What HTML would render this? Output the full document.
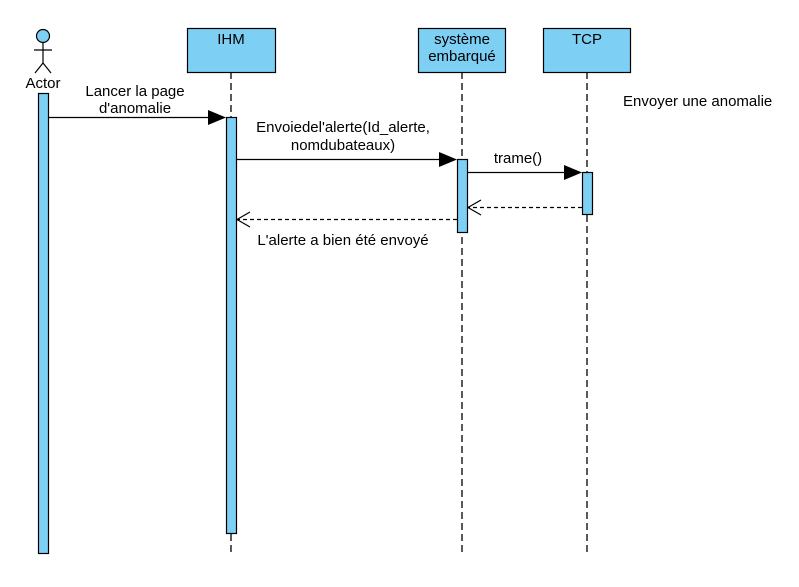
<!DOCTYPE html>
<html><head><meta charset="utf-8"><style>
body{margin:0;background:#fff;}
svg text{font-family:"Liberation Sans",Arial,sans-serif;font-size:15px;fill:#000;}
</style></head><body>
<svg width="799" height="582" viewBox="0 0 799 582" xmlns="http://www.w3.org/2000/svg">
<g stroke="#000" stroke-width="1.3" stroke-dasharray="7,4" fill="none">
<line x1="231" y1="72" x2="231" y2="556"/>
<line x1="462" y1="72" x2="462" y2="556"/>
<line x1="587" y1="72" x2="587" y2="556"/>
</g>
<g fill="#7dcff3" stroke="#000" stroke-width="1.2">
<rect x="187.5" y="28.5" width="88" height="44"/>
<rect x="418.5" y="28.5" width="87" height="44"/>
<rect x="543.5" y="28.5" width="87" height="44"/>
<rect x="38.5" y="93.5" width="10" height="460"/>
<rect x="226.5" y="117.5" width="10" height="416"/>
<rect x="457.5" y="159.5" width="10" height="73"/>
<rect x="582.5" y="172.5" width="10" height="42"/>
<circle cx="43" cy="36" r="6.5"/>
</g>
<g stroke="#000" fill="none" stroke-width="1.2">
<line x1="43" y1="43" x2="43" y2="63"/>
<line x1="34" y1="50" x2="52" y2="50"/>
<line x1="43" y1="63" x2="35" y2="73"/>
<line x1="43" y1="63" x2="51" y2="73"/>
<line x1="48" y1="117.5" x2="210" y2="117.5"/>
<line x1="236" y1="159.5" x2="441" y2="159.5"/>
<line x1="467" y1="172.5" x2="566" y2="172.5"/>
<line x1="582" y1="207.5" x2="468" y2="207.5" stroke-dasharray="4,3"/>
<polyline points="481,200 468,207.5 481,215"/>
<line x1="457" y1="219.5" x2="237" y2="219.5" stroke-dasharray="4,3"/>
<polyline points="250,212 237,219.5 250,227"/>
</g>
<g fill="#000">
<polygon points="208,110 226,117.5 208,125"/>
<polygon points="439,152 457,159.5 439,167"/>
<polygon points="564,165 582,172.5 564,180"/>
</g>
<text x="43" y="88" text-anchor="middle">Actor</text>
<text x="231" y="44" text-anchor="middle">IHM</text>
<text x="462" y="44" text-anchor="middle">système</text>
<text x="462" y="61" text-anchor="middle">embarqué</text>
<text x="587" y="44" text-anchor="middle">TCP</text>
<text x="135" y="96" text-anchor="middle">Lancer la page</text>
<text x="135" y="113" text-anchor="middle">d'anomalie</text>
<text x="343" y="132" text-anchor="middle">Envoiedel'alerte(Id_alerte,</text>
<text x="343" y="150" text-anchor="middle">nomdubateaux)</text>
<text x="518" y="163" text-anchor="middle">trame()</text>
<text x="343" y="245" text-anchor="middle">L'alerte a bien été envoyé</text>
<text x="623" y="106">Envoyer une anomalie</text>
</svg>
</body></html>
